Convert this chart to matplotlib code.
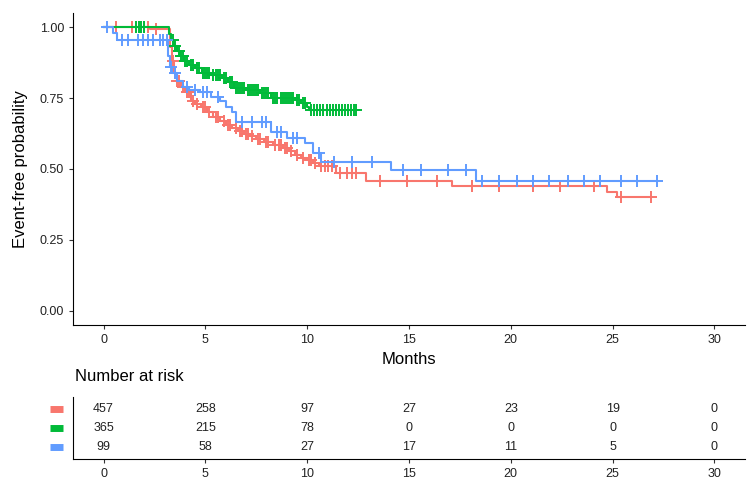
import numpy as np
import matplotlib
matplotlib.use("Agg")
import matplotlib.pyplot as plt
import matplotlib.transforms as mtransforms

plt.rcParams['font.family'] = ['Liberation Sans', 'DejaVu Sans']

groups = ['1', '2', '3']
colors = ['#F8766D', '#00BA38', '#619CFF']

# step curves (time in months, survival after the step)
red_t = [0, 2.3, 3.25, 3.35, 3.45, 3.6, 3.8, 4.0, 4.3, 4.5, 4.8, 5.1, 5.4, 5.7, 6.0, 6.3,
         6.6, 6.9, 7.2, 7.5, 7.9, 8.3, 8.8, 9.1, 9.4, 9.7, 10.0, 10.3, 10.6, 11.4, 12.9,
         17.1, 24.7, 25.2, 26.9]
red_s = [1.0, 0.993, 0.93, 0.88, 0.84, 0.81, 0.79, 0.77, 0.74, 0.73, 0.72, 0.70, 0.685, 0.67,
         0.655, 0.645, 0.635, 0.625, 0.615, 0.605, 0.595, 0.585, 0.575, 0.565, 0.55, 0.54,
         0.53, 0.52, 0.512, 0.487, 0.457, 0.44, 0.42, 0.40, 0.40]
red_cens = [0.6, 1.4, 2.2, 2.6, 3.4, 3.5, 3.6, 3.7, 3.9, 4.1, 4.2, 4.4, 4.6, 4.9, 5.0, 5.2,
            5.5, 5.6, 5.9, 6.1, 6.2, 6.5, 6.7, 6.8, 7.0, 7.1, 7.3, 7.6, 7.7, 8.0, 8.1, 8.4,
            8.6, 8.7, 8.9, 9.0, 9.2, 9.5, 9.8, 10.1, 10.2, 10.4, 10.7, 10.9, 11.0, 11.2,
            11.6, 11.95, 12.2, 12.4, 13.6, 14.9, 16.4, 18.1, 19.4, 21.1, 22.4, 24.1, 25.4, 26.9]

green_t = [0, 3.2, 3.3, 3.45, 3.6, 3.75, 3.95, 4.2, 4.5, 4.85, 5.3, 5.8, 6.1, 6.4, 7.0, 7.7,
           8.2, 9.4, 9.7, 10.0, 10.1, 12.4]
green_s = [1.0, 0.975, 0.955, 0.935, 0.915, 0.90, 0.88, 0.866, 0.855, 0.84, 0.83, 0.82, 0.806,
           0.785, 0.778, 0.768, 0.752, 0.743, 0.732, 0.718, 0.708, 0.708]
green_cens = [1.6, 1.75, 1.85, 2.0, 3.4, 3.5, 3.7, 3.8, 3.9, 4.0, 4.1, 4.3, 4.4, 4.6, 4.7,
              4.9, 5.0, 5.1, 5.2, 5.4, 5.5, 5.6, 5.7, 5.9, 6.0, 6.2, 6.3, 6.5, 6.6, 6.7, 6.8,
              6.9, 7.1, 7.2, 7.3, 7.4, 7.5, 7.6, 7.8, 7.9, 8.0, 8.1, 8.3, 8.4, 8.5, 8.7, 8.8,
              8.9, 9.0, 9.1, 9.2, 9.3, 9.5, 9.6, 9.8, 9.9, 10.2, 10.35, 10.5, 10.65, 10.8,
              10.95, 11.1, 11.25, 11.4, 11.55, 11.7, 11.85, 12.0, 12.15, 12.3, 12.4]

blue_t = [0, 0.45, 0.65, 3.15, 3.25, 3.35, 3.6, 3.9, 4.2, 4.7, 5.3, 5.7, 6.0, 6.3, 6.5, 8.2,
          9.0, 9.9, 10.3, 10.7, 14.1, 18.3, 27.2]
blue_s = [1.0, 0.98, 0.955, 0.90, 0.86, 0.84, 0.81, 0.79, 0.78, 0.77, 0.755, 0.74, 0.72, 0.70,
          0.665, 0.63, 0.61, 0.59, 0.555, 0.525, 0.495, 0.457, 0.457]
blue_cens = [0.15, 0.9, 1.2, 1.7, 1.95, 2.2, 2.45, 2.75, 2.9, 3.1, 3.3, 3.5, 4.1, 4.5, 4.9,
             5.1, 5.6, 6.8, 7.3, 7.8, 8.0, 8.5, 8.7, 9.3, 9.5, 10.6, 11.3, 12.2, 13.2, 14.7,
             15.6, 16.9, 17.8, 18.6, 19.4, 20.3, 21.1, 21.9, 22.8, 23.6, 24.4, 25.4, 26.2, 27.2]

# number at risk table
risk_times = [0, 5, 10, 15, 20, 25, 30]
risk_red = [457, 258, 97, 27, 23, 19, 0]
risk_green = [365, 215, 78, 0, 0, 0, 0]
risk_blue = [99, 58, 27, 17, 11, 5, 0]

curves = [(red_t, red_s, red_cens), (green_t, green_s, green_cens), (blue_t, blue_s, blue_cens)]
risks = [risk_red, risk_green, risk_blue]

fig = plt.figure(figsize=(7.5, 4.98), dpi=100)
ax = fig.add_axes([0.0973, 0.3474, 0.896, 0.6265])

for (t, s, c), col in zip(curves, colors):
    ax.step(t, s, where='post', color=col, lw=1.5)
    idx = np.searchsorted(t, c, side='right') - 1
    ax.plot(c, np.array(s)[idx], '+', color=col, ms=8, mew=1.4, ls='none')

ax.set_xlim(-1.5, 31.5)
ax.set_ylim(-0.05, 1.05)
ax.set_xticks(risk_times)
ax.set_yticks([0, 0.25, 0.5, 0.75, 1.0])
ax.set_yticklabels(['0.00', '0.25', '0.50', '0.75', '1.00'])
for sp in ['top', 'right']:
    ax.spines[sp].set_visible(False)
ax.tick_params(length=3, width=0.8, labelsize=9, colors='#333333', labelcolor='#222222')
ax.set_xlabel('Months', fontsize=12, labelpad=4)
ax.set_ylabel('Event-free probability', fontsize=12, labelpad=8)

# risk table
ax2 = fig.add_axes([0.0973, 0.0783, 0.896, 0.1245])
ax2.set_xlim(-1.5, 31.5)
ax2.set_ylim(0.4, 3.6)
for i, (vals, col) in enumerate(zip(risks, colors)):
    yy = 3 - i
    for x, v in zip(risk_times, vals):
        ax2.text(x, yy, str(v), ha='center', va='center', fontsize=9, color='#222222')
trans = mtransforms.blended_transform_factory(ax2.transAxes, ax2.transData)
for i, col in enumerate(colors):
    ax2.plot([-0.034, -0.015], [3 - i, 3 - i], color=col, lw=5, solid_capstyle='butt',
             transform=trans, clip_on=False)
ax2.set_xticks(risk_times)
ax2.set_yticks([])
for sp in ['top', 'right']:
    ax2.spines[sp].set_visible(False)
ax2.tick_params(length=3, width=0.8, labelsize=9, colors='#333333', labelcolor='#222222')
fig.text(0.1, 0.243, 'Number at risk', fontsize=12, va='center', ha='left')

fig.savefig('out.png', dpi=100)
